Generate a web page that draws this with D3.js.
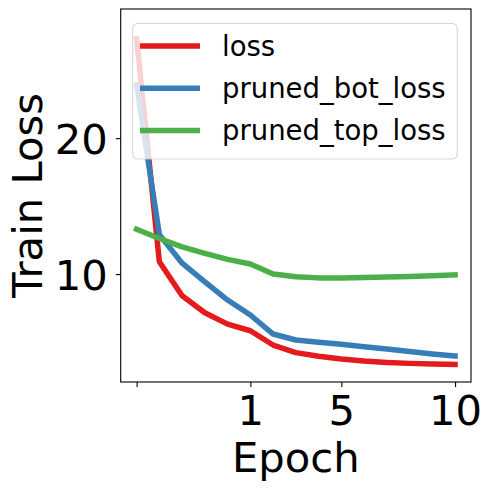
<!DOCTYPE html>
<html>
<head>
<meta charset="utf-8">
<script src="https://cdn.jsdelivr.net/npm/d3@7"></script>
<style>
  html, body { margin: 0; padding: 0; background: #fff; }
  svg { display: block; font-family: "DejaVu Sans", sans-serif; }
</style>
</head>
<body>
<svg id="chart" width="491" height="491"></svg>
<script>
// Data (x categories are evenly spaced epochs)
const epochs = [0, 0.2, 0.4, 0.6, 0.8, 1, 2, 3, 4, 5, 6, 7, 8, 9, 10];
const loss = [27.3, 10.9, 8.4, 7.15, 6.32, 5.83, 4.78, 4.22, 3.95, 3.75, 3.6, 3.5, 3.43, 3.39, 3.36];
const prunedBotLoss = [23.9, 12.9, 10.8, 9.43, 8.09, 6.99, 5.59, 5.15, 4.98, 4.83, 4.66, 4.48, 4.3, 4.12, 3.97];
const prunedTopLoss = [13.3, 12.62, 12.0, 11.52, 11.08, 10.74, 10.0, 9.8, 9.72, 9.72, 9.74, 9.78, 9.83, 9.88, 9.94];
const seriesNames = ["loss", "pruned_bot_loss", "pruned_top_loss"];
const seriesColors = ["#e41a1c", "#377eb8", "#4daf4a"];
const xTickEpochs = [0, 1, 5, 10];
const xTickLabels = ["", "1", "5", "10"];
const yTicks = [10, 20];

const svg = d3.select("#chart");
const L = 120.7, R = 471, T = 9, B = 382;
const n = epochs.length;
const x = d3.scaleLinear().domain([-0.05 * (n - 1), (n - 1) * 1.05]).range([L, R]);
const y = d3.scaleLinear().domain([2.06, 29.5]).range([B, T]);

const series = [loss, prunedBotLoss, prunedTopLoss];
const line = d3.line().x((d, i) => x(i)).y(d => y(d));

const plot = svg.append("g");
series.forEach((s, k) => {
  plot.append("path")
    .datum(s)
    .attr("d", line)
    .attr("fill", "none")
    .attr("stroke", seriesColors[k])
    .attr("stroke-width", 5.5)
    .attr("stroke-linejoin", "round")
    .attr("stroke-linecap", "square");
});

// Axes frame
svg.append("rect")
  .attr("x", L).attr("y", T).attr("width", R - L).attr("height", B - T)
  .attr("fill", "none").attr("stroke", "#000").attr("stroke-width", 1.1);

const fs = 41.7;
// X axis
const xAxis = d3.axisBottom(x)
  .tickValues(xTickEpochs.map(e => epochs.indexOf(e)))
  .tickFormat((d, i) => xTickLabels[i])
  .tickSize(4.9).tickPadding(4);
const gx = svg.append("g").attr("transform", `translate(0,${B})`).call(xAxis);
gx.select(".domain").remove();
gx.selectAll("line").attr("stroke", "#000").attr("stroke-width", 1.1);
gx.selectAll("text").attr("font-size", fs).attr("fill", "#000")
  .attr("font-family", "DejaVu Sans").attr("dy", null).attr("y", 43);

// Y axis
const yAxis = d3.axisLeft(y).tickValues(yTicks).tickFormat(d3.format("d")).tickSize(4.9).tickPadding(6);
const gy = svg.append("g").attr("transform", `translate(${L},0)`).call(yAxis);
gy.select(".domain").remove();
gy.selectAll("line").attr("stroke", "#000").attr("stroke-width", 1.1);
gy.selectAll("text").attr("font-size", fs).attr("fill", "#000")
  .attr("font-family", "DejaVu Sans").attr("dy", "0.37em").attr("x", -13);

// Axis titles
svg.append("text").attr("x", (L + R) / 2).attr("y", 471.5)
  .attr("text-anchor", "middle").attr("font-size", fs).attr("fill", "#000").text("Epoch");
svg.append("text").attr("transform", `translate(41.5,${(T + B) / 2}) rotate(-90)`)
  .attr("text-anchor", "middle").attr("font-size", fs).attr("fill", "#000").text("Train Loss");

// Legend
const lg = svg.append("g");
lg.append("rect").attr("x", 132.7).attr("y", 23.5).attr("width", 324.6).attr("height", 135.5)
  .attr("rx", 5).attr("ry", 5)
  .attr("fill", "#fff").attr("fill-opacity", 0.8)
  .attr("stroke", "#cccccc").attr("stroke-opacity", 0.8).attr("stroke-width", 1.1);
const legY = d3.scalePoint().domain(seriesNames).range([46, 130.5]);
seriesNames.forEach((name, k) => {
  lg.append("line").attr("x1", 140).attr("x2", 200)
    .attr("y1", legY(name)).attr("y2", legY(name))
    .attr("stroke", seriesColors[k]).attr("stroke-width", 5.5);
  lg.append("text").attr("x", 222).attr("y", legY(name)).attr("dy", "0.36em")
    .attr("font-size", 27.5).attr("fill", "#000").text(name);
});
</script>
</body>
</html>
